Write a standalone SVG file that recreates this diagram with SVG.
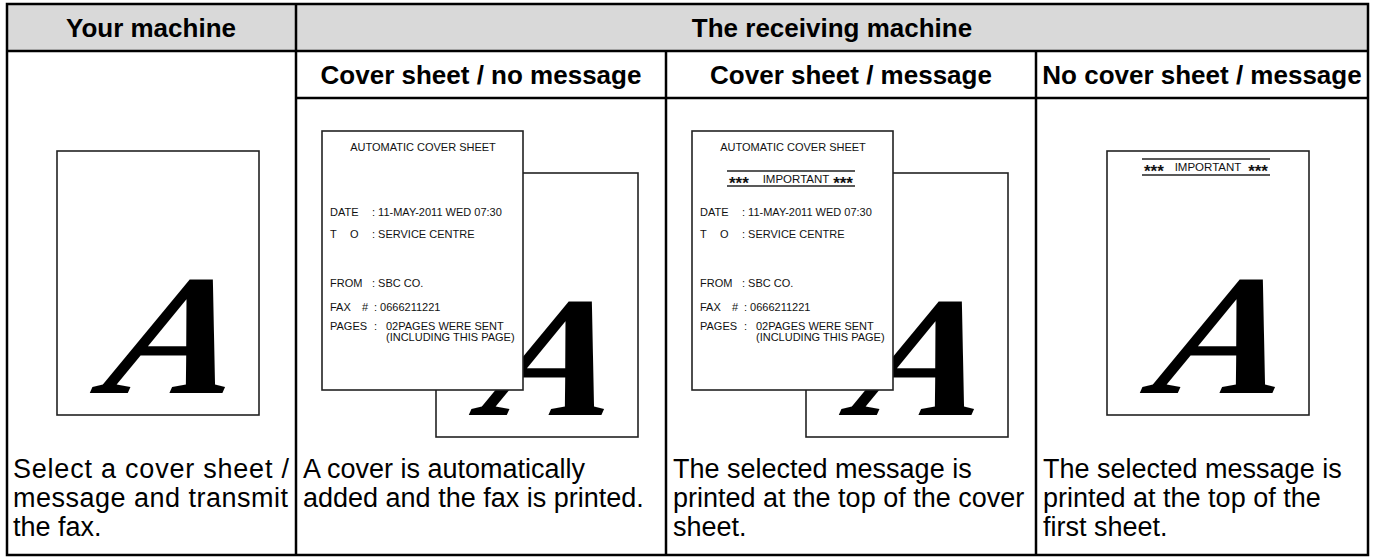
<svg xmlns="http://www.w3.org/2000/svg" width="1374" height="559" viewBox="0 0 1374 559">
<style>
.grid{stroke:#000;stroke-width:2.5;fill:none}
.hfill{fill:#d9d9d9}
.hdr{font-family:"Liberation Sans",Arial,sans-serif;font-weight:bold;font-size:26px;text-anchor:middle;fill:#000}
.desc{font-family:"Liberation Sans",Arial,sans-serif;font-size:27px;fill:#000}
.page{fill:#fff;stroke:#222;stroke-width:1.6}
.glyph{font-family:"Liberation Serif","DejaVu Serif",serif;font-style:italic;font-weight:bold;font-size:172px;fill:#000}
.sm{font-family:"Liberation Sans",Arial,sans-serif;font-size:11px;fill:#111}
.ttl{font-family:"Liberation Sans",Arial,sans-serif;font-size:11px;fill:#111;text-anchor:middle}
.imp{font-family:"Liberation Sans",Arial,sans-serif;font-size:11.5px;fill:#111;text-anchor:middle}
.ast{font-family:"Liberation Sans",Arial,sans-serif;font-size:17px;font-weight:bold;fill:#111}
.rule{stroke:#222;stroke-width:1.3}
</style>

<g id="table">
<rect class="hfill" x="7" y="4" width="1361" height="47"/>
<rect class="grid" x="7" y="4" width="1361" height="551"/>
<line class="grid" x1="7" y1="51" x2="1368" y2="51"/>
<line class="grid" x1="296" y1="98" x2="1368" y2="98"/>
<line class="grid" x1="296" y1="4" x2="296" y2="555"/>
<line class="grid" x1="666" y1="51" x2="666" y2="555"/>
<line class="grid" x1="1036" y1="51" x2="1036" y2="555"/>
</g>

<g id="headers">
<text class="hdr" x="151" y="37">Your machine</text>
<text class="hdr" x="832" y="37">The receiving machine</text>
<text class="hdr" x="481" y="84">Cover sheet / no message</text>
<text class="hdr" x="851" y="84">Cover sheet / message</text>
<text class="hdr" x="1202" y="84">No cover sheet / message</text>
</g>

<g id="your-machine">
<rect class="page" x="57" y="151" width="202" height="264"/>
<text class="glyph" transform="translate(100,393) skewX(-12) scale(1.15,1)">A</text>
<text class="desc" x="13" y="478" textLength="276" lengthAdjust="spacing">Select a cover sheet /</text>
<text class="desc" x="13" y="507" textLength="275" lengthAdjust="spacing">message and transmit</text>
<text class="desc" x="13" y="536">the fax.</text>
</g>

<g id="cover-no-message">
<rect class="page" x="436" y="173" width="202" height="264"/>
<text class="glyph" transform="translate(479,415) skewX(-12) scale(1.15,1)">A</text>
<rect class="page" x="322" y="131" width="201" height="259"/>
<text class="ttl" x="423" y="151">AUTOMATIC COVER SHEET</text>
<text class="sm" x="330" y="216">DATE</text><text class="sm" x="372" y="216">: 11-MAY-2011 WED 07:30</text>
<text class="sm" x="330" y="238">T</text><text class="sm" x="350" y="238">O</text><text class="sm" x="372" y="238">: SERVICE CENTRE</text>
<text class="sm" x="330" y="287">FROM</text><text class="sm" x="372" y="287">: SBC CO.</text>
<text class="sm" x="330" y="311">FAX</text><text class="sm" x="362" y="311">#</text><text class="sm" x="374" y="311">: 0666211221</text>
<text class="sm" x="330" y="330">PAGES</text><text class="sm" x="374" y="330">:</text><text class="sm" x="386" y="330">02PAGES WERE SENT</text>
<text class="sm" x="386" y="341">(INCLUDING THIS PAGE)</text>
<text class="desc" x="303" y="478">A cover is automatically</text>
<text class="desc" x="303" y="507">added and the fax is printed.</text>
</g>

<g id="cover-message">
<rect class="page" x="806" y="173" width="202" height="264"/>
<text class="glyph" transform="translate(849,415) skewX(-12) scale(1.15,1)">A</text>
<rect class="page" x="692" y="131" width="201" height="259"/>
<text class="ttl" x="793" y="151">AUTOMATIC COVER SHEET</text>
<line class="rule" x1="727" y1="171" x2="855" y2="171"/>
<line class="rule" x1="727" y1="186" x2="855" y2="186"/>
<text class="ast" x="729" y="189">***</text>
<text class="imp" x="796" y="183">IMPORTANT</text>
<text class="ast" x="853" y="189" text-anchor="end">***</text>
<text class="sm" x="700" y="216">DATE</text><text class="sm" x="742" y="216">: 11-MAY-2011 WED 07:30</text>
<text class="sm" x="700" y="238">T</text><text class="sm" x="720" y="238">O</text><text class="sm" x="742" y="238">: SERVICE CENTRE</text>
<text class="sm" x="700" y="287">FROM</text><text class="sm" x="742" y="287">: SBC CO.</text>
<text class="sm" x="700" y="311">FAX</text><text class="sm" x="732" y="311">#</text><text class="sm" x="744" y="311">: 0666211221</text>
<text class="sm" x="700" y="330">PAGES</text><text class="sm" x="744" y="330">:</text><text class="sm" x="756" y="330">02PAGES WERE SENT</text>
<text class="sm" x="756" y="341">(INCLUDING THIS PAGE)</text>
<text class="desc" x="673" y="478">The selected message is</text>
<text class="desc" x="673" y="507">printed at the top of the cover</text>
<text class="desc" x="673" y="536">sheet.</text>
</g>

<g id="no-cover-message">
<rect class="page" x="1107" y="151" width="202" height="264"/>
<line class="rule" x1="1142" y1="159" x2="1270" y2="159"/>
<line class="rule" x1="1142" y1="175" x2="1270" y2="175"/>
<text class="ast" x="1144" y="177">***</text>
<text class="imp" x="1208" y="171">IMPORTANT</text>
<text class="ast" x="1268" y="177" text-anchor="end">***</text>
<text class="glyph" transform="translate(1150,393) skewX(-12) scale(1.15,1)">A</text>
<text class="desc" x="1043" y="478">The selected message is</text>
<text class="desc" x="1043" y="507">printed at the top of the</text>
<text class="desc" x="1043" y="536">first sheet.</text>
</g>
</svg>
